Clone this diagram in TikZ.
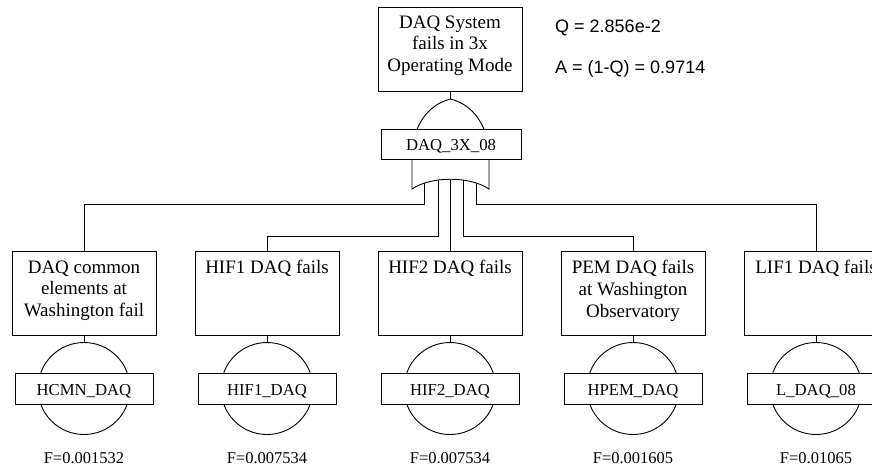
\documentclass[tikz,border=0pt]{standalone}
\usepackage{fontspec}
\setmainfont{Liberation Serif}
\newfontfamily\qafont{Liberation Sans}
\begin{document}
\begin{tikzpicture}[x=1pt,y=-1pt,
  ln/.style={line width=0.9pt, draw=black},
  evbox/.style={ln, rectangle, minimum width=144pt, minimum height=84pt, inner sep=0pt},
  evtext/.style={anchor=north, inner sep=0pt, align=center, font=\fontsize{19}{21.7}\selectfont},
  idbox/.style={ln, fill=white, rectangle, minimum width=138pt, minimum height=31pt, inner sep=0pt, text height=13pt, text depth=0pt, font=\fontsize{16.7}{20}\selectfont},
  basic/.style={ln, circle, minimum size=92pt, inner sep=0pt},
  prob/.style={anchor=base, inner sep=0pt, font=\fontsize{16.5}{20}\selectfont},
  qa/.style={anchor=base west, inner sep=0pt, font=\qafont\fontsize{18}{21}\selectfont},
]
\clip (0,0) rectangle (872,469);
\fill[white] (0,0) rectangle (872,469);

% top event
\node[evbox] (top) at (450,49) {};
\node[evtext] (toptxt) at (450,15.5) {DAQ System\\fails in 3x\\Operating Mode};
\node[qa] (q) at (555,32) {Q = 2.856e-2};
\node[qa] (a) at (555,73) {A = (1-Q) = 0.9714};

% children
\foreach \i/\x/\txt/\id/\p in {
  1/84/{DAQ common\\elements at\\Washington fail}/HCMN\_DAQ/0.001532,
  2/267/{HIF1 DAQ fails}/HIF1\_DAQ/0.007534,
  3/450/{HIF2 DAQ fails}/HIF2\_DAQ/0.007534,
  4/633/{PEM DAQ fails\\at Washington\\Observatory}/HPEM\_DAQ/0.001605,
  5/816/{LIF1 DAQ fails}/L\_DAQ\_08/0.01065}{
  \node[evbox] (e\i) at (\x,293) {};
  \node[evtext] (t\i) at (\x,260.3) {\txt};
  \node[basic] (c\i) at (\x,388.5) {};
  \node[idbox] (b\i) at (\x,388.5) {\id};
  \node[prob] (f\i) at (\x,463) {F=\p};
  \draw[ln] (e\i.south) -- (c\i.north);
}

% gate outputs
\coordinate (o1) at (424,178);
\coordinate (o2) at (438,178);
\coordinate (o3) at (450,178);
\coordinate (o4) at (463,178);
\coordinate (o5) at (476,178);
\draw[ln] (o1) -- ++(0,26) -| (e1.north);
\draw[ln] (o2) -- ++(0,58) -| (e2.north);
\draw[ln] (o3) -- (e3.north);
\draw[ln] (o4) -- ++(0,58) -| (e4.north);
\draw[ln] (o5) -- ++(0,26) -| (e5.north);

% OR gate
\coordinate (gapex) at (450.5,99);
\draw[ln, fill=white] (412,189) -- (412,159) -- (415,135)
  .. controls (422,112) and (438,102) .. (gapex)
  .. controls (463,102) and (479,112) .. (486,135)
  -- (489,159) -- (489,189)
  .. controls (470,176) and (431,176) .. (412,189) -- cycle;
\node[idbox, minimum width=140pt, minimum height=30pt] (g) at (451,144) {DAQ\_3X\_08};
\draw[ln] (top.south) -- (top.south |- gapex);
\end{tikzpicture}
\end{document}
